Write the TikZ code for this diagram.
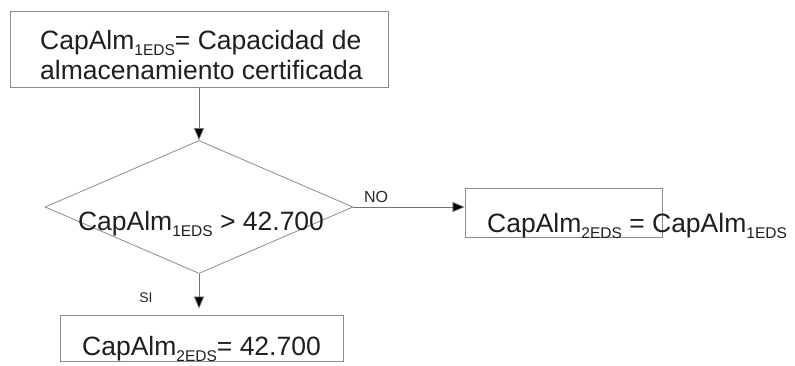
\documentclass[tikz,border=0pt]{standalone}
\usepackage{fontspec}
\setmainfont{Liberation Sans}
\usetikzlibrary{arrows.meta,shapes.geometric}
\newcommand\sbx[1]{\raisebox{-6pt}{\fontsize{15.5}{15.5}\selectfont #1}}
\begin{document}
\begin{tikzpicture}[x=1pt,y=-1pt,
  boxst/.style={draw=black!45, line width=0.8pt, inner sep=0pt},
  txt/.style={font=\fontsize{26.5}{30}\selectfont, text=black!88, inner sep=0pt},
  lbl/.style={font=\fontsize{14}{14}\selectfont, text=black!85, inner sep=0pt},
  conn/.style={draw=black!55, line width=0.7pt, -{Triangle[length=12pt,width=10pt,fill=black]}}]
\useasboundingbox (0,0) rectangle (795,366);
% top box
\node[boxst, minimum width=378pt, minimum height=76pt] (topbox) at (199,49) {};
\node[txt, align=left, anchor=north west] (toptxt) at (40,30)
  {CapAlm\sbx{1EDS}= Capacidad de\\almacenamiento certificada};
% diamond
\node[diamond, draw=black!45, line width=0.8pt, minimum width=308pt, minimum height=133pt, inner sep=0pt] (dec) at (199,207) {};
\node[txt, anchor=base] (dectxt) at (201,230) {CapAlm\sbx{1EDS} > 42.700};
% right box
\node[boxst, minimum width=197pt, minimum height=49pt] (rbox) at (563.5,212.5) {};
\node[txt, anchor=base west] (rtxt) at (487,233) {CapAlm\sbx{2EDS} = CapAlm\sbx{1EDS}};
% bottom box
\node[boxst, minimum width=283pt, minimum height=46pt] (bbox) at (201.5,338) {};
\node[txt, anchor=base west] (btxt) at (82,355) {CapAlm\sbx{2EDS}= 42.700};
% connectors
\draw[conn] (topbox.south -| dec.north) -- (dec.north);
\draw[conn] (dec.east) -- (dec.east -| rbox.west);
\draw[conn, shorten >=6pt] (dec.south) -- (bbox.north -| dec.south);
% labels
\node[lbl, font=\fontsize{16}{16}\selectfont] (nolbl) at (376,197) {NO};
\node[lbl] (silbl) at (146,298) {SI};
\end{tikzpicture}
\end{document}
